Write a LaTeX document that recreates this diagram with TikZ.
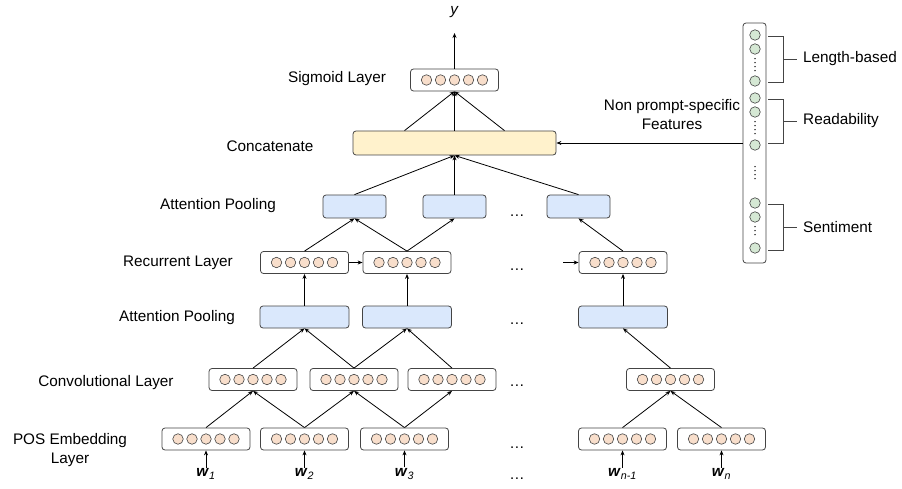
\documentclass[tikz,border=0pt]{standalone}
\usepackage{fontspec}
\setmainfont{Liberation Sans}
\usepackage{xcolor}
\usepackage{tikz}
\usetikzlibrary{arrows.meta,positioning,calc}

\definecolor{cellpeach}{HTML}{F8DECB}
\definecolor{poolblue}{HTML}{DAE8FC}
\definecolor{catyellow}{HTML}{FFF2CC}
\definecolor{featgreen}{HTML}{D5E8D4}
\definecolor{boxedge}{HTML}{444444}

\tikzset{
    vecbox/.style={draw=boxedge, line width=0.8pt, rounded corners=3pt, fill=white,
        minimum width=88pt, minimum height=22pt, inner sep=0pt},
    cell/.style={circle, draw=boxedge, line width=0.6pt, fill=cellpeach,
        minimum size=10.5pt, inner sep=0pt},
    fcell/.style={cell, fill=featgreen},
    pool/.style={vecbox, fill=poolblue, minimum width=89pt},
    spool/.style={vecbox, fill=poolblue, minimum width=63pt, minimum height=23pt},
    concat/.style={vecbox, fill=catyellow, minimum width=203pt, minimum height=24pt},
    feat/.style={vecbox, minimum width=23pt, minimum height=240pt},
    lbl/.style={inner sep=0pt, align=center},
    word/.style={inner sep=1pt},
    gap/.style={inner sep=0pt, anchor=base},
    vdots/.style={line width=1.5pt, line cap=round, dash pattern=on 0pt off 4pt},
    bracket/.style={draw=boxedge, line width=0.8pt},
    link/.style={->, line width=0.8pt},
}

% a layer vector: box with five cells
\newcommand{\vecnode}[3]{%
    \node[vecbox] (#1) at (#2,#3) {};
    \foreach \k in {-2,...,2}
        \node[cell, xshift=\k*14pt] at (#1) {};
}

\begin{document}
\begin{tikzpicture}[x=1pt, y=-1pt, font=\fontsize{15.3}{19}\selectfont,
    >={Stealth[length=5pt, width=4pt]}]
    \useasboundingbox (0,0) rectangle (902,489);

    % layer names
    \node[lbl] (lsig) at (337,79) {Sigmoid Layer};
    \node[lbl] (lcat) at (270,146) {Concatenate};
    \node[lbl] (lspool) at (218,206) {Attention Pooling};
    \node[lbl] (lrec) at (178,263) {Recurrent Layer};
    \node[lbl] (lpool) at (177,318) {Attention Pooling};
    \node[lbl] (lconv) at (106,383) {Convolutional Layer};
    \node[lbl] (lemb) at (70,450.5) {POS Embedding\\Layer};

    % POS embedding layer
    \vecnode{emb1}{206}{439}
    \vecnode{emb2}{304.5}{439}
    \vecnode{emb3}{404.5}{439}
    \vecnode{embm}{622.5}{439}
    \vecnode{embn}{721.5}{439}

    \node[word] (w1) at (206,474) {\textbf{\textit{w}}\textsubscript{\textit{1}}};
    \node[word] (w2) at (304.5,474) {\textbf{\textit{w}}\textsubscript{\textit{2}}};
    \node[word] (w3) at (404.5,474) {\textbf{\textit{w}}\textsubscript{\textit{3}}};
    \node[word] (wm) at (622.5,474) {\textbf{\textit{w}}\textsubscript{\textit{n-1}}};
    \node[word] (wn) at (721.5,474) {\textbf{\textit{w}}\textsubscript{\textit{n}}};

    % convolutional layer
    \vecnode{conv1}{253}{379.5}
    \vecnode{conv2}{354}{379.5}
    \vecnode{conv3}{452}{379.5}
    \vecnode{convl}{670.5}{379.5}

    % attention pooling over words
    \node[pool] (att1) at (304.5,317) {};
    \node[pool] (att2) at (407,317) {};
    \node[pool] (attl) at (623,317) {};

    % recurrent layer
    \vecnode{rec1}{304.5}{262.5}
    \vecnode{rec2}{407}{262.5}
    \vecnode{recl}{623}{262.5}
    \coordinate (recin) at (563,262.5);

    % attention pooling over sentences
    \node[spool] (satt1) at (354.5,206.5) {};
    \node[spool] (satt2) at (454.5,206.5) {};
    \node[spool] (satt3) at (578.5,206.5) {};

    \node[concat] (concat) at (454.5,143) {};
    \vecnode{sig}{454.5}{80}
    \coordinate (ytip) at (454.5,33);
    \node (y) at (454.5,12) {\textit{y}};

    % gaps
    \node[gap] (gap1) at (517,216.5) {…};
    \node[gap] (gap2) at (517,270.5) {…};
    \node[gap] (gap3) at (517,324.5) {…};
    \node[gap] (gap4) at (517,386.5) {…};
    \node[gap] (gap5) at (517,448.5) {…};
    \node[gap] (gap6) at (517,479.5) {…};

    % connections
    \foreach \s/\t in {w1/emb1, w2/emb2, w3/emb3, wm/embm, wn/embn,
        emb1/conv1, emb2/conv1, emb2/conv2, emb3/conv2, emb3/conv3, embm/convl, embn/convl,
        conv1/att1, conv2/att1, conv2/att2, conv3/att2, convl/attl,
        att1/rec1, att2/rec2, attl/recl,
        rec1/satt1, rec2/satt1, rec2/satt2, recl/satt3,
        satt1/concat, satt2/concat, satt3/concat}
        \draw[link] (\s.north) -- (\t.south);
    \draw[link] (rec1) -- (rec2);
    \draw[link] (recin) -- (recl);
    \foreach \dx in {-50,0,50}
        \draw[link] ([xshift=\dx pt]concat.north) -- (sig.south);
    \draw[link] (sig) -- (ytip);

    % hand-crafted features
    \node[feat] (feat) at (754.5,143) {};
    \foreach \fy [count=\i] in {35,49,81,98,112,145,203,217,248}
        \node[fcell] (f\i) at (755,\fy) {};
    \draw[vdots] ([yshift=-4pt]f2.south) -- ([yshift=4pt]f3.north);
    \draw[vdots] ([yshift=-4pt]f5.south) -- ([yshift=4pt]f6.north);
    \draw[vdots] ([yshift=-16pt]f6.south) -- ([yshift=16pt]f7.north);
    \draw[vdots] ([yshift=-4pt]f8.south) -- ([yshift=4pt]f9.north);

    \foreach \a/\b/\t [count=\j] in {36/82/Length-based, 99/143/Readability, 204/250/Sentiment} {
        \draw[bracket] (768,\a) -- (783,\a) -- (783,\b) -- (768,\b);
        \node[lbl, anchor=west] (grp\j) at (803,{(\a+\b)/2}) {\t};
        \draw[bracket] (783,{(\a+\b)/2}) -- ([xshift=-6pt]grp\j.west);
    }

    \node[lbl] (ltxt) at (672,115) {Non prompt-specific\\Features};
    \draw[link] (feat.west) -- (concat.east);
\end{tikzpicture}
\end{document}
